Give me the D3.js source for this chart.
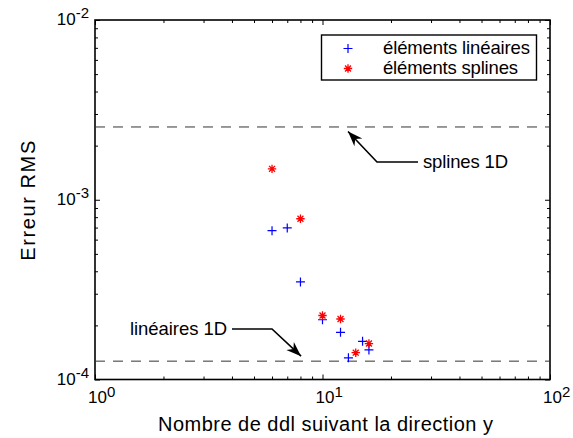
<!DOCTYPE html>
<html>
<head>
<meta charset="utf-8">
<script src="https://cdn.jsdelivr.net/npm/d3@7"></script>
<style>
  html, body { margin: 0; padding: 0; background: #fff; }
  svg { display: block; font-family: "Liberation Sans", Arial, sans-serif; }
</style>
</head>
<body>
<svg id="chart" width="573" height="438"></svg>
<script>
// ---- data ----
const linX = [6, 7, 8, 10, 12, 13, 15, 16];
const linY = [6.73e-4, 6.97e-4, 3.49e-4, 2.15e-4, 1.83e-4, 1.32e-4, 1.63e-4, 1.46e-4];
const splX = [6, 8, 10, 12, 14, 16];
const splY = [1.486e-3, 7.84e-4, 2.27e-4, 2.17e-4, 1.41e-4, 1.585e-4];
const ref1D = [
  { label: "splines 1D", value: 2.54e-3 },
  { label: "linéaires 1D", value: 1.265e-4 }
];
const legendLabels = ["éléments linéaires", "éléments splines"];
const xTickExp = [0, 1, 2];
const yTickExp = [-4, -3, -2];
const xLabel = "Nombre de ddl suivant la direction y";
const yLabel = "Erreur RMS";

// ---- layout ----
const L = 95, R = 550, T = 20, B = 379.5;
const svg = d3.select("#chart");
const x = d3.scaleLog().domain([1, 100]).range([L, R]);
const y = d3.scaleLog().domain([1e-4, 1e-2]).range([B, T]);

const minorX = [];
[1, 10].forEach(d => { for (let k = 2; k <= 9; k++) minorX.push(d * k); });
const minorY = [];
[1e-4, 1e-3].forEach(d => { for (let k = 2; k <= 9; k++) minorY.push(d * k); });
const majorX = xTickExp.map(e => Math.pow(10, e));
const majorY = yTickExp.map(e => Math.pow(10, e));

function styleAxis(g) {
  g.select(".domain").remove();
  g.selectAll(".tick line").attr("stroke", "#000").attr("stroke-width", 1);
}
// ticks inside on all four sides
svg.append("g").attr("transform", `translate(0,${B})`)
  .call(d3.axisBottom(x).tickValues(majorX).tickSize(-5).tickFormat("")).call(styleAxis);
svg.append("g").attr("transform", `translate(0,${B})`)
  .call(d3.axisBottom(x).tickValues(minorX).tickSize(-3).tickFormat("")).call(styleAxis);
svg.append("g").attr("transform", `translate(0,${T})`)
  .call(d3.axisTop(x).tickValues(majorX).tickSize(-5).tickFormat("")).call(styleAxis);
svg.append("g").attr("transform", `translate(0,${T})`)
  .call(d3.axisTop(x).tickValues(minorX).tickSize(-3).tickFormat("")).call(styleAxis);
svg.append("g").attr("transform", `translate(${L},0)`)
  .call(d3.axisLeft(y).tickValues(majorY).tickSize(-5).tickFormat("")).call(styleAxis);
svg.append("g").attr("transform", `translate(${L},0)`)
  .call(d3.axisLeft(y).tickValues(minorY).tickSize(-3).tickFormat("")).call(styleAxis);
svg.append("g").attr("transform", `translate(${R},0)`)
  .call(d3.axisRight(y).tickValues(majorY).tickSize(-5).tickFormat("")).call(styleAxis);
svg.append("g").attr("transform", `translate(${R},0)`)
  .call(d3.axisRight(y).tickValues(minorY).tickSize(-3).tickFormat("")).call(styleAxis);

// box
svg.append("rect").attr("x", L).attr("y", T).attr("width", R - L).attr("height", B - T)
  .attr("fill", "none").attr("stroke", "#000").attr("stroke-width", 1.6);

// tick labels
xTickExp.forEach(e => {
  const t = svg.append("text").attr("x", x(Math.pow(10, e)) - 7).attr("y", 403)
    .attr("font-size", 17).attr("fill", "#000");
  t.append("tspan").text("10");
  t.append("tspan").attr("dy", -6).attr("font-size", 15).text(String(e));
});
yTickExp.forEach(e => {
  const t = svg.append("text").attr("x", L - 6).attr("y", y(Math.pow(10, e)) + 5)
    .attr("font-size", 17).attr("fill", "#000").attr("text-anchor", "end");
  t.append("tspan").text("10");
  t.append("tspan").attr("dy", -7).attr("font-size", 15).text(String(e));
});

// axis titles
svg.append("text").attr("x", 158).attr("y", 431)
  .attr("font-size", 20).attr("fill", "#000")
  .attr("textLength", 335).attr("lengthAdjust", "spacing").text(xLabel);
svg.append("text").attr("transform", `translate(35,${(T + B) / 2 + 61}) rotate(-90)`)
  .attr("font-size", 20).attr("fill", "#000")
  .attr("textLength", 120).attr("lengthAdjust", "spacing").text(yLabel);

// dashed reference lines
svg.selectAll("line.ref").data(ref1D).enter().append("line")
  .attr("x1", L).attr("x2", R)
  .attr("y1", d => y(d.value)).attr("y2", d => y(d.value))
  .attr("stroke", "#333").attr("stroke-width", 1).attr("stroke-dasharray", "10,8");

// arrowheads drawn as polygons
function arrowHead(x0, y0, x1, y1, len, wid) {
  const a = Math.atan2(y1 - y0, x1 - x0);
  const bx = x1 - len * Math.cos(a), by = y1 - len * Math.sin(a);
  const px = -Math.sin(a) * wid / 2, py = Math.cos(a) * wid / 2;
  svg.append("path")
    .attr("d", `M${x1},${y1} L${bx + px},${by + py} L${bx + 0.3 * len * Math.cos(a)},${by + 0.3 * len * Math.sin(a)} L${bx - px},${by - py} Z`)
    .attr("fill", "#000");
}
// annotation "splines 1D"
const sTip = [x(12.95), y(ref1D[0].value) + 4.5];
svg.append("path")
  .attr("d", `M418,162 L377,162 L${sTip[0]},${sTip[1]}`)
  .attr("fill", "none").attr("stroke", "#000").attr("stroke-width", 1.6);
arrowHead(377, 162, sTip[0], sTip[1], 15, 11);
svg.append("text").attr("x", 423).attr("y", 168).attr("font-size", 18.5).attr("fill", "#000")
  .attr("textLength", 85).attr("lengthAdjust", "spacing").text(ref1D[0].label);

// annotation "linéaires 1D"
const lTip = [x(8.05), y(ref1D[1].value) - 5];
svg.append("path")
  .attr("d", `M232,329 L272,329 L${lTip[0]},${lTip[1]}`)
  .attr("fill", "none").attr("stroke", "#000").attr("stroke-width", 1.6);
arrowHead(272, 329, lTip[0], lTip[1], 15, 11);
svg.append("text").attr("x", 130).attr("y", 335).attr("font-size", 18.5).attr("fill", "#000")
  .attr("textLength", 97).attr("lengthAdjust", "spacing").text(ref1D[1].label);

// markers
function plus(g, cx, cy, s, color) {
  g.append("path").attr("d", `M${cx - s},${cy} H${cx + s} M${cx},${cy - s} V${cy + s}`)
    .attr("stroke", color).attr("stroke-width", 1.2).attr("fill", "none");
}
function star(g, cx, cy, s, color) {
  let d = "";
  for (let i = 0; i < 4; i++) {
    const a = i * Math.PI / 4;
    d += `M${cx - s * Math.cos(a)},${cy - s * Math.sin(a)} L${cx + s * Math.cos(a)},${cy + s * Math.sin(a)} `;
  }
  g.append("path").attr("d", d).attr("stroke", color).attr("stroke-width", 1.3).attr("fill", "none");
}
const gLin = svg.append("g");
linX.forEach((v, i) => plus(gLin, x(v), y(linY[i]), 4.5, "#0000ff"));
const gSpl = svg.append("g");
splX.forEach((v, i) => star(gSpl, x(v), y(splY[i]), 4.2, "#ff0000"));

// legend
svg.append("rect").attr("x", 321.5).attr("y", 35).attr("width", 215).attr("height", 45)
  .attr("fill", "#fff").attr("stroke", "#000").attr("stroke-width", 1.4);
plus(svg, 348, 48.5, 4.5, "#0000ff");
star(svg, 348, 68.5, 4.2, "#ff0000");
svg.append("text").attr("x", 383).attr("y", 54).attr("font-size", 18.5).attr("fill", "#000")
  .attr("textLength", 147).attr("lengthAdjust", "spacing").text(legendLabels[0]);
svg.append("text").attr("x", 383).attr("y", 74).attr("font-size", 18.5).attr("fill", "#000")
  .attr("textLength", 135).attr("lengthAdjust", "spacing").text(legendLabels[1]);
</script>
</body>
</html>
